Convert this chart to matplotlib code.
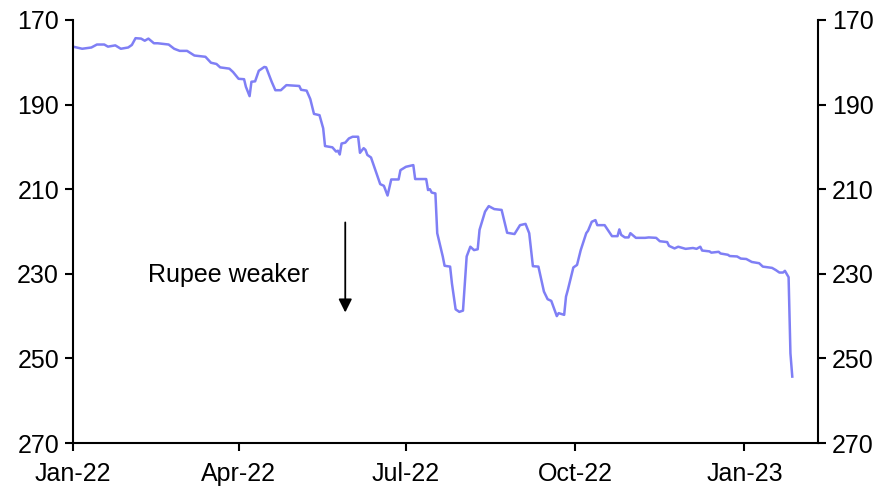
import matplotlib
matplotlib.use("Agg")
import matplotlib.pyplot as plt
import matplotlib.dates as mdates
import pandas as pd

# PKR per USD (axis inverted: down = rupee weaker)
dates = [
    "2022-01-01", "2022-01-06", "2022-01-11", "2022-01-14", "2022-01-18", "2022-01-20",
    "2022-01-24", "2022-01-27", "2022-01-31", "2022-02-02", "2022-02-04", "2022-02-07",
    "2022-02-09", "2022-02-11", "2022-02-14", "2022-02-16", "2022-02-22", "2022-02-25",
    "2022-02-28", "2022-03-04", "2022-03-08", "2022-03-14", "2022-03-17", "2022-03-20",
    "2022-03-22", "2022-03-27", "2022-03-29", "2022-04-01", "2022-04-04", "2022-04-05",
    "2022-04-07", "2022-04-08", "2022-04-10", "2022-04-12", "2022-04-15", "2022-04-16",
    "2022-04-19", "2022-04-21", "2022-04-24", "2022-04-27", "2022-05-04", "2022-05-05",
    "2022-05-08", "2022-05-10", "2022-05-12", "2022-05-15", "2022-05-17", "2022-05-18",
    "2022-05-22", "2022-05-24", "2022-05-25", "2022-05-26", "2022-05-27", "2022-05-29",
    "2022-05-31", "2022-06-02", "2022-06-05", "2022-06-06", "2022-06-08", "2022-06-09",
    "2022-06-10", "2022-06-12", "2022-06-17", "2022-06-19", "2022-06-21", "2022-06-23",
    "2022-06-27", "2022-06-28", "2022-07-01", "2022-07-05", "2022-07-06", "2022-07-12",
    "2022-07-13", "2022-07-14", "2022-07-15", "2022-07-17", "2022-07-18", "2022-07-21",
    "2022-07-22", "2022-07-25", "2022-07-26", "2022-07-28", "2022-07-30", "2022-08-01",
    "2022-08-03", "2022-08-05", "2022-08-07", "2022-08-09", "2022-08-10", "2022-08-13",
    "2022-08-15", "2022-08-18", "2022-08-22", "2022-08-25", "2022-08-29", "2022-09-01",
    "2022-09-04", "2022-09-06", "2022-09-08", "2022-09-11", "2022-09-14", "2022-09-16",
    "2022-09-18", "2022-09-21", "2022-09-22", "2022-09-25", "2022-09-26", "2022-09-27",
    "2022-09-30", "2022-10-02", "2022-10-04", "2022-10-07", "2022-10-08", "2022-10-10",
    "2022-10-12", "2022-10-13", "2022-10-17", "2022-10-19", "2022-10-21", "2022-10-24",
    "2022-10-25", "2022-10-26", "2022-10-28", "2022-10-30", "2022-10-31", "2022-11-03",
    "2022-11-08", "2022-11-10", "2022-11-14", "2022-11-16", "2022-11-20", "2022-11-21",
    "2022-11-24", "2022-11-26", "2022-11-30", "2022-12-04", "2022-12-06", "2022-12-08",
    "2022-12-09", "2022-12-13", "2022-12-14", "2022-12-18", "2022-12-19", "2022-12-23",
    "2022-12-24", "2022-12-28", "2022-12-30", "2023-01-02", "2023-01-05", "2023-01-09",
    "2023-01-11", "2023-01-16", "2023-01-18", "2023-01-20", "2023-01-22", "2023-01-23",
    "2023-01-25", "2023-01-26", "2023-01-27",
]
pkr_usd = [
    176.3, 176.8, 176.5, 175.8, 175.8, 176.3,
    176.0, 176.8, 176.5, 175.9, 174.3, 174.4,
    174.9, 174.4, 175.5, 175.5, 175.8, 176.8,
    177.3, 177.3, 178.4, 178.7, 180.1, 180.4,
    181.2, 181.5, 182.3, 183.9, 184.0, 185.8,
    188.0, 184.6, 184.5, 182.0, 181.1, 181.2,
    184.6, 186.6, 186.6, 185.4, 185.6, 186.5,
    186.7, 188.7, 192.2, 192.5, 195.6, 199.8,
    200.1, 201.1, 200.9, 201.8, 199.2, 199.0,
    198.0, 197.6, 197.6, 201.4, 200.3, 200.7,
    201.9, 202.5, 208.8, 209.2, 211.5, 207.7,
    207.7, 205.5, 204.7, 204.3, 207.6, 207.6,
    210.2, 210.0, 210.8, 211.0, 220.4, 225.9,
    228.1, 228.3, 232.3, 238.4, 239.0, 238.7,
    225.9, 223.6, 224.4, 224.2, 219.6, 215.3,
    214.0, 214.7, 214.9, 220.3, 220.6, 218.5,
    218.2, 220.4, 228.2, 228.3, 234.2, 236.0,
    236.4, 240.0, 239.3, 239.7, 235.4, 233.8,
    228.5, 227.9, 224.4, 220.4, 219.8, 217.7,
    217.3, 218.5, 218.5, 219.8, 221.1, 221.1,
    219.5, 220.8, 221.4, 221.4, 220.4, 221.5,
    221.5, 221.4, 221.5, 222.3, 222.5, 223.4,
    224.0, 223.6, 224.1, 223.9, 224.1, 223.6,
    224.5, 224.7, 225.0, 224.8, 225.2, 225.5,
    225.8, 225.9, 226.4, 226.5, 227.2, 227.5,
    228.3, 228.6, 229.1, 229.7, 229.7, 229.3,
    230.8, 248.8, 254.3,
]
y_ticks = [170, 190, 210, 230, 250, 270]
x_ticks = ["2022-01-01", "2022-04-01", "2022-07-01", "2022-10-01", "2023-01-01"]

plt.rcParams['font.family'] = ['Liberation Sans', 'DejaVu Sans']

fig = plt.figure(figsize=(8.88, 4.9), dpi=100)
ax = fig.add_axes([0.0822, 0.0959, 0.8390, 0.8633])

ax.plot(pd.to_datetime(dates), pkr_usd, color='#7F7FF5', lw=1.8)

ax.set_ylim(270, 170)
ax.set_yticks(y_ticks)
ax.set_xlim(pd.Timestamp("2022-01-01"), pd.Timestamp("2023-02-10"))
ax.set_xticks(pd.to_datetime(x_ticks))
ax.xaxis.set_major_formatter(mdates.DateFormatter("%b-%y"))

for side in ['left', 'right', 'bottom']:
    ax.spines[side].set_linewidth(1.5)
    ax.spines[side].set_color('black')
ax.spines['top'].set_visible(False)
ax.tick_params(axis='both', direction='out', length=6, width=1.5,
               labelsize=18, colors='black')
ax.tick_params(axis='y', right=True, labelright=True, pad=4)
ax.tick_params(axis='x', pad=8)

# annotation
ax.annotate('', xy=(pd.Timestamp("2022-05-29"), 239.8),
            xytext=(pd.Timestamp("2022-05-29"), 217.2),
            arrowprops=dict(arrowstyle='-|>', color='black', lw=1.3,
                            mutation_scale=20))
ax.text(pd.Timestamp("2022-02-11"), 230.3, 'Rupee weaker', fontsize=18,
        ha='left', va='center')

fig.savefig('out.png', dpi=100, facecolor='white')
